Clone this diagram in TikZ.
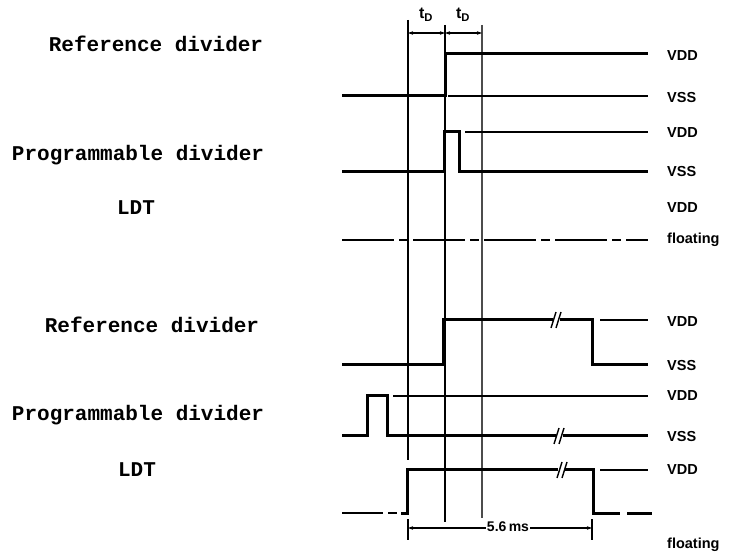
\documentclass[tikz,border=0pt]{standalone}
\usepackage{fontspec}
\setmainfont{Liberation Sans}
\newfontfamily\typew{Liberation Mono}
\usetikzlibrary{arrows.meta}
\begin{document}
\begin{tikzpicture}[x=1pt,y=-1pt,
  sig/.style={line width=3pt,line join=miter},
  thin/.style={line width=1.3pt},
  grid/.style={line width=1.2pt},
  lbl/.style={font=\typew\bfseries\fontsize{21}{22}\selectfont,inner sep=0pt},
  rl/.style={font=\bfseries\fontsize{14.5}{16}\selectfont,anchor=west,inner sep=0pt},
  brk/.style={line width=1.4pt},
  dim/.style={line width=1.2pt,{Stealth[length=5pt,width=3.5pt]}-{Stealth[length=5pt,width=3.5pt]}}]
\useasboundingbox (0,0) rectangle (732,556);
% left labels
\node[lbl] (l1) at (156,44) {Reference divider};
\node[lbl] (l2) at (138,155) {Programmable divider};
\node[lbl] (l3) at (136,208) {LDT};
\node[lbl] (l4) at (152,325) {Reference divider};
\node[lbl] (l5) at (138,415) {Programmable divider};
\node[lbl] (l6) at (137,470) {LDT};
% right labels
\node[rl] (r1) at (667,56) {VDD};
\node[rl] (r2) at (667,98) {VSS};
\node[rl] (r3) at (667,133) {VDD};
\node[rl] (r4) at (667,172) {VSS};
\node[rl] (r5) at (667,208) {VDD};
\node[rl] (r6) at (667,240) {floating};
\node[rl] (r7) at (667,322) {VDD};
\node[rl] (r8) at (667,366) {VSS};
\node[rl] (r9) at (667,396) {VDD};
\node[rl] (r10) at (667,437) {VSS};
\node[rl] (r11) at (667,470) {VDD};
\node[rl] (r12) at (667,545) {floating};
% vertical reference lines
\draw[grid] (408,20) -- (408,460);
\draw[grid] (445,25) -- (445,522);
\draw[grid,black!70] (482,25) -- (482,518);
% tD dimension
\coordinate (d1) at (408,33);
\coordinate (d2) at (445,33);
\coordinate (d3) at (482,33);
\draw[dim] (d1) -- (d2);
\draw[dim] (d2) -- (d3);
\node[font=\bfseries\fontsize{16}{18}\selectfont] (t1) at (426,15) {t\textsubscript{D}};
\node[font=\bfseries\fontsize{16}{18}\selectfont] (t2) at (463,15) {t\textsubscript{D}};
% Row 1
\draw[sig] (342,96) -- (445,96) -- (445,54) -- (648,54);
\draw[thin] (448,96) -- (648,96);
% Row 2
\draw[sig] (342,172) -- (444,172) -- (444,132) -- (459,132) -- (459,172) -- (648,172);
\draw[thin] (465,132) -- (648,132);
% Row 3
\draw[sig,line width=2.2pt,dash pattern=on 52pt off 5pt on 9pt off 5pt] (342,240) -- (648,240);
% Row 4
\draw[sig] (342,365) -- (443,365) -- (443,320) -- (553,320);
\draw[sig] (560,320) -- (592,320) -- (592,365) -- (648,365);
\draw[brk] (551,328) -- (556,312);
\draw[brk] (556,328) -- (561,312);
\draw[thin] (600,320) -- (648,320);
% Row 5
\draw[sig] (342,436) -- (367,436) -- (367,396) -- (387,396) -- (387,436) -- (556,436);
\draw[sig] (563,436) -- (648,436);
\draw[brk] (554,444) -- (559,428);
\draw[brk] (559,444) -- (564,428);
\draw[thin] (393,396) -- (648,396);
% Row 6
\draw[sig,line width=2.2pt] (342,513) -- (383,513);
\draw[sig,line width=2.2pt] (388,513) -- (397,513);
\draw[sig] (401,513) -- (407,513) -- (407,470) -- (558,470);
\draw[sig] (565,470) -- (593,470) -- (593,513) -- (620,513);
\draw[sig] (627,513) -- (652,513);
\draw[brk] (557,478) -- (562,462);
\draw[brk] (562,478) -- (567,462);
\draw[thin] (600,470) -- (648,470);
% 5.6 ms dimension
\coordinate (m1) at (408,528);
\coordinate (m2) at (592,528);
\draw[thin] (408,519) -- (408,540);
\draw[thin] (592,519) -- (592,540);
\draw[dim] (m1) -- (m2);
\node[font=\bfseries\fontsize{14}{16}\selectfont,fill=white,inner sep=1pt] (ms) at (508,527) {5.6\,ms};
\end{tikzpicture}
\end{document}
